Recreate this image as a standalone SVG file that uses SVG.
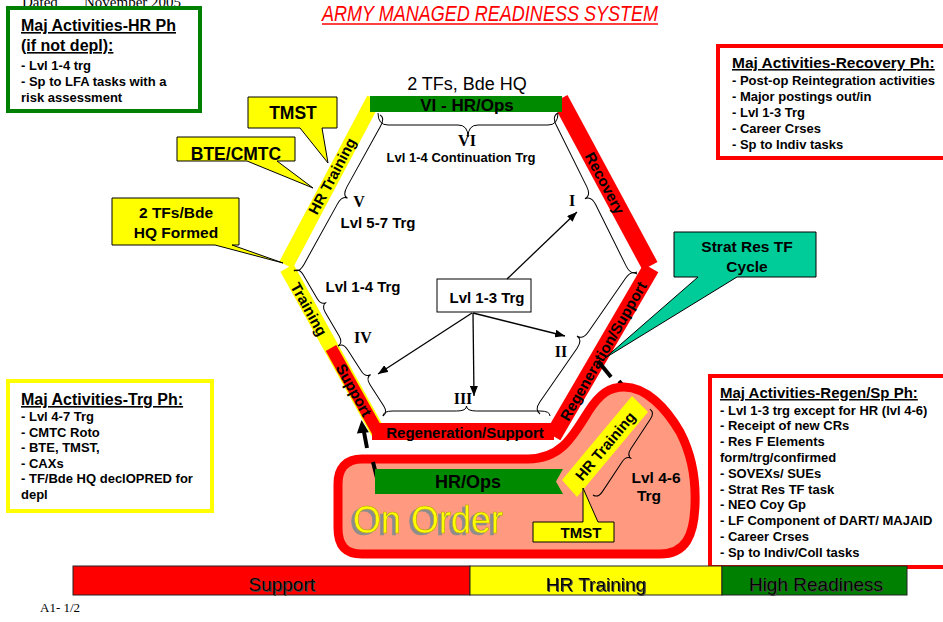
<svg xmlns="http://www.w3.org/2000/svg" width="943" height="622" viewBox="0 0 943 622">
<style>
.b{font-family:"Liberation Sans",Arial,sans-serif;font-weight:bold;fill:#000}
.n{font-family:"Liberation Sans",Arial,sans-serif;fill:#000}
.s{font-family:"Liberation Serif","Times New Roman",serif;font-weight:bold;fill:#000}
.br{fill:none;stroke:#000;stroke-width:1}
.ar{stroke:#000;stroke-width:1.3;fill:none;marker-end:url(#ah)}
.u{text-decoration:underline}
.call{fill:#FFFF00;stroke:#000;stroke-width:1}
</style>
<defs>
<marker id="ah" viewBox="0 0 10 8" refX="10" refY="4" markerWidth="10" markerHeight="8" markerUnits="userSpaceOnUse" orient="auto"><path d="M0,0 L10,4 L0,8 Z" fill="#000"/></marker>
<filter id="sh" x="-10%" y="-20%" width="120%" height="150%"><feDropShadow dx="-3" dy="2" stdDeviation="0.3" flood-color="#8c8c8c" flood-opacity="1"/></filter>
<filter id="sh2" x="-10%" y="-20%" width="120%" height="150%"><feDropShadow dx="1" dy="1" stdDeviation="0.3" flood-color="#444" flood-opacity="1"/></filter>
</defs>
<rect width="943" height="622" fill="#fff"/>

<g id="header">
<text x="22" y="7" font-family="Liberation Serif,serif" font-size="15">Dated</text>
<text x="84" y="7" font-family="Liberation Serif,serif" font-size="15">November 2005</text>
<text x="322" y="21" font-family="Liberation Sans,Arial,sans-serif" font-style="italic" font-size="22" fill="#FF0000" textLength="336" lengthAdjust="spacingAndGlyphs">ARMY MANAGED READINESS SYSTEM</text>
<line x1="322" y1="24" x2="658" y2="24" stroke="#FF0000" stroke-width="1.3"/>
</g>

<g id="box-hr">
<rect x="8" y="8" width="192" height="103" fill="#fff" stroke="#008000" stroke-width="4"/>
<text class="b u" x="21" y="31" font-size="16">Maj Activities-HR Ph</text>
<text class="b u" x="21" y="51" font-size="16">(if not depl):</text>
<text class="b" x="21" y="70" font-size="13">- Lvl 1-4 trg</text>
<text class="b" x="21" y="86" font-size="13">- Sp to LFA tasks with a</text>
<text class="b" x="21" y="102" font-size="13">risk assessment</text>
</g>

<g id="box-recovery">
<rect x="718" y="46" width="240" height="112" fill="#fff" stroke="#FF0000" stroke-width="4"/>
<text class="b u" x="732" y="68" font-size="15.5">Maj Activities-Recovery Ph:</text>
<text class="b" x="732" y="85" font-size="13">- Post-op Reintegration activities</text>
<text class="b" x="732" y="101" font-size="13">- Major postings out/in</text>
<text class="b" x="732" y="117" font-size="13">- Lvl 1-3 Trg</text>
<text class="b" x="732" y="133" font-size="13">- Career Crses</text>
<text class="b" x="732" y="149" font-size="13">- Sp to Indiv tasks</text>
</g>

<g id="box-trg">
<rect x="8" y="381" width="204" height="130" fill="#fff" stroke="#FFFF00" stroke-width="4"/>
<text class="b u" x="21" y="405" font-size="16">Maj Activities-Trg Ph:</text>
<text class="b" x="21" y="421" font-size="13">- Lvl 4-7 Trg</text>
<text class="b" x="21" y="436.5" font-size="13">- CMTC Roto</text>
<text class="b" x="21" y="452" font-size="13">- BTE, TMST,</text>
<text class="b" x="21" y="467.5" font-size="13"> - CAXs</text>
<text class="b" x="21" y="483" font-size="13">- TF/Bde HQ declOPRED for</text>
<text class="b" x="21" y="498.5" font-size="13">depl</text>
</g>

<g id="box-regen">
<rect x="710" y="376" width="250" height="191" fill="#fff" stroke="#FF0000" stroke-width="4"/>
<text class="b u" x="720" y="398" font-size="15">Maj Activities-Regen/Sp Ph:</text>
<text class="b" x="720" y="414.5" font-size="13">- Lvl 1-3 trg except for HR (lvl 4-6)</text>
<text class="b" x="720" y="430.3" font-size="13">- Receipt of new CRs</text>
<text class="b" x="720" y="446.1" font-size="13">- Res F Elements</text>
<text class="b" x="720" y="461.9" font-size="13">form/trg/confirmed</text>
<text class="b" x="720" y="477.7" font-size="13">- SOVEXs/ SUEs</text>
<text class="b" x="720" y="493.5" font-size="13">- Strat Res TF task</text>
<text class="b" x="720" y="509.3" font-size="13">- NEO Coy Gp</text>
<text class="b" x="720" y="525.1" font-size="13">- LF Component of DART/ MAJAID</text>
<text class="b" x="720" y="540.9" font-size="13">- Career Crses</text>
<text class="b" x="720" y="556.7" font-size="13">- Sp to Indiv/Coll  tasks</text>
</g>

<g id="hexagon">
<line x1="374" y1="99" x2="286" y2="265" stroke="#FFFF00" stroke-width="15"/>
<line x1="287" y1="268" x2="378" y2="432" stroke="#FFFF00" stroke-width="15"/>
<line x1="331" y1="348" x2="380" y2="436" stroke="#FF0000" stroke-width="12"/>
<rect x="372" y="423" width="182" height="17" fill="#FF0000"/>
<line x1="553" y1="436" x2="651" y2="268" stroke="#FF0000" stroke-width="17"/>
<line x1="560" y1="99" x2="650" y2="266" stroke="#FF0000" stroke-width="17"/>
<rect x="370" y="96" width="192" height="16" fill="#008a00"/>
<text class="n" x="467" y="90" font-size="18" text-anchor="middle">2 TFs, Bde HQ</text>
<text class="b" x="467" y="111" font-size="17" text-anchor="middle">VI - HR/Ops</text>
<text class="b" x="465" y="438" font-size="15" text-anchor="middle">Regeneration/Support</text>
<text class="b" font-size="15" text-anchor="middle" transform="translate(332,176) rotate(-62)" y="5.5">HR Training</text>
<text class="b" font-size="15" text-anchor="middle" transform="translate(309,309) rotate(61)" y="5.5">Training</text>
<text class="b" font-size="15" text-anchor="middle" transform="translate(354,390) rotate(61)" y="5.5">Support</text>
<text class="b" font-size="15" text-anchor="middle" transform="translate(605,183) rotate(62)" y="5.5">Recovery</text>
<text class="b" font-size="15" text-anchor="middle" transform="translate(603,351) rotate(-60)" y="5.5">Regeneration/Support</text>
</g>

<g id="braces">
<path class="br" transform="translate(378,113)" d="M0,0 Q0,12 10,12 L80,12 Q90,12 90,24 Q90,12 100,12 L170,12 Q180,12 180,0"/>
<path class="br" transform="translate(558,113) rotate(63.6)" d="M0,0 Q0,7 10,7 L78.75,7 Q88.75,7 88.75,14 Q88.75,7 98.75,7 L167.5,7 Q177.5,7 177.5,0"/>
<path class="br" transform="translate(637,274) rotate(124.7)" d="M0,0 Q0,7 10,7 L75.15,7 Q85.15,7 85.15,14 Q85.15,7 95.15,7 L160.3,7 Q170.3,7 170.3,0"/>
<path class="br" transform="translate(550,416) rotate(180)" d="M0,0 Q0,5 10,5 L73.5,5 Q83.5,5 83.5,10 Q83.5,5 93.5,5 L157,5 Q167,5 167,0"/>
<path class="br" transform="translate(383,416) rotate(-122.7)" d="M0,0 Q0,6 8,6 L33.6,6 Q41.6,6 41.6,12 Q41.6,6 49.6,6 L75.2,6 Q83.2,6 83.2,0"/>
<path class="br" transform="translate(338,346) rotate(-120.4)" d="M0,0 Q0,6 8,6 L35.5,6 Q43.5,6 43.5,12 Q43.5,6 51.5,6 L79,6 Q87,6 87,0"/>
<path class="br" transform="translate(294,270) rotate(-61)" d="M0,0 Q0,6 10,6 L78.65,6 Q88.65,6 88.65,12 Q88.65,6 98.65,6 L167.3,6 Q177.3,6 177.3,0"/>
</g>

<g id="phase-labels">
<text class="s" x="467" y="146" font-size="16" text-anchor="middle">VI</text>
<text class="b" x="461" y="162" font-size="13" text-anchor="middle">Lvl 1-4 Continuation Trg</text>
<text class="s" x="359" y="207" font-size="16" text-anchor="middle">V</text>
<text class="b" x="378" y="228" font-size="15" text-anchor="middle">Lvl 5-7 Trg</text>
<text class="b" x="363" y="292" font-size="15" text-anchor="middle">Lvl 1-4 Trg</text>
<text class="s" x="363" y="343" font-size="16" text-anchor="middle">IV</text>
<text class="s" x="572" y="206" font-size="16" text-anchor="middle">I</text>
<text class="s" x="561" y="357" font-size="16" text-anchor="middle">II</text>
<text class="s" x="463" y="404" font-size="16" text-anchor="middle">III</text>
</g>

<g id="center-box">
<rect x="437" y="279" width="94" height="33" fill="#fff" stroke="#000" stroke-width="1"/>
<text class="b" x="487" y="303" font-size="15" text-anchor="middle">Lvl 1-3 Trg</text>
</g>

<g id="connectors">
<line class="ar" x1="507" y1="279" x2="577" y2="212"/>
<line class="ar" x1="472" y1="313" x2="378" y2="374"/>
<line class="ar" x1="473" y1="313" x2="474" y2="396"/>
<line class="ar" x1="473" y1="313" x2="565" y2="336"/>
<line x1="598" y1="361" x2="611" y2="377" stroke="#000" stroke-width="4"/>
<line x1="619" y1="381" x2="625" y2="388" stroke="#000" stroke-width="4"/>
<polygon points="632,397 619.5,389.8 627.3,383.4" fill="#000"/>
<line x1="367" y1="448" x2="364" y2="432" stroke="#000" stroke-width="4"/>
<polygon points="361.5,420 356.9,433.5 368.9,432.3" fill="#000"/>
</g>

<g id="callout-tmst">
<path class="call" d="M248,97 H337 V128 H322 L328,163 L300,128 H248 Z"/>
<text class="b" x="293" y="119" font-size="17.5" text-anchor="middle">TMST</text>
</g>
<g id="callout-bte">
<path class="call" d="M177,137 H295 V161 H277 L313,188 L247,161 H177 Z"/>
<text class="b" x="236" y="160" font-size="17.5" text-anchor="middle">BTE/CMTC</text>
</g>
<g id="callout-2tfs">
<path class="call" d="M112,198 H239 V245 H232 L283,263 L215,245 H112 Z"/>
<text class="b" x="176" y="218" font-size="15.5" text-anchor="middle">2 TFs/Bde</text>
<text class="b" x="176" y="238" font-size="15.5" text-anchor="middle">HQ Formed</text>
</g>
<g id="callout-strat">
<path d="M674,232 H816 V277 H737 L605,358 L698,277 H674 Z" fill="#00CC99" stroke="#000" stroke-width="1"/>
<text class="b" x="747" y="252" font-size="15.5" text-anchor="middle">Strat Res TF</text>
<text class="b" x="747" y="272" font-size="15.5" text-anchor="middle">Cycle</text>
</g>

<g id="on-order">
<path d="M362,459 L528,459 C560,459 572,438 588,412 C600,393 610,387 624,387 C646,387 666,408 680,432 C692,455 696,480 695,505 C694,535 686,554 660,554 L362,554 C345,554 338,545 338,528 L338,484 C338,468 346,459 362,459 Z" fill="#FF9980" stroke="#FF0000" stroke-width="9"/>
<line x1="377" y1="478" x2="373" y2="462" stroke="#000" stroke-width="4"/>
<polygon points="375,469 563,469 556,481.5 563,494 375,494" fill="#008a00"/>
<text class="b" x="468" y="488" font-size="18" text-anchor="middle">HR/Ops</text>
<polygon points="562,480 577,497 648,412 632,396" fill="#FFFF00"/>
<text class="b" font-size="15" text-anchor="middle" transform="translate(605,446) rotate(-50)" y="5.5">HR Training</text>
<path class="br" transform="translate(593,495) rotate(-56.5)" d="M0,0 Q0,6 8,6 L43.5,6 Q51.5,6 51.5,12 Q51.5,6 59.5,6 L95,6 Q103,6 103,0"/>
<text class="b" x="656" y="483" font-size="15.5" text-anchor="middle">Lvl 4-6</text>
<text class="b" x="649" y="501" font-size="15.5" text-anchor="middle">Trg</text>
<path class="call" d="M533,522 H583 V488 L598,522 H614 V542 H533 Z"/>
<text class="b" x="581" y="538" font-size="15" text-anchor="middle">TMST</text>
<text x="353" y="533" font-family="Liberation Sans,Arial,sans-serif" font-size="39" fill="#FFFF00" stroke="#b0a000" stroke-width="0.6" filter="url(#sh)" textLength="150" lengthAdjust="spacingAndGlyphs">On Order</text>
</g>

<g id="phase-bar">
<rect x="73" y="566" width="397" height="29" fill="#FF0000" stroke="#222" stroke-width="1"/>
<rect x="470" y="566" width="252" height="29" fill="#FFFF00" stroke="#222" stroke-width="1"/>
<rect x="722" y="566" width="185" height="29" fill="#008000" stroke="#222" stroke-width="1"/>
<text class="n" x="282" y="591" font-size="19" text-anchor="middle" filter="url(#sh2)">Support</text>
<text class="n" x="596" y="591" font-size="19" text-anchor="middle" filter="url(#sh2)">HR Training</text>
<text class="n" x="816" y="591" font-size="19" text-anchor="middle" filter="url(#sh2)">High Readiness</text>
</g>
<text x="40" y="612" font-family="Liberation Serif,serif" font-size="13">A1- 1/2</text>
</svg>
